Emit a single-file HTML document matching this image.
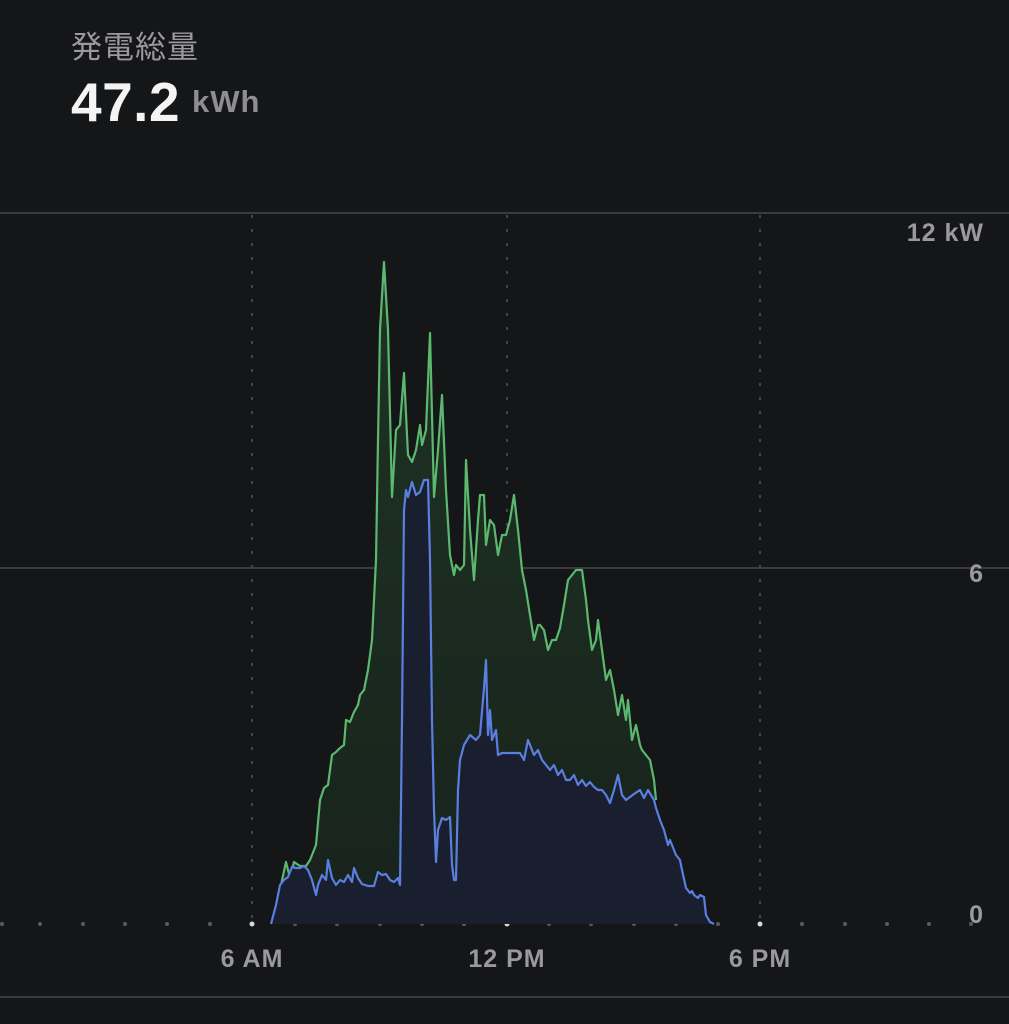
<!DOCTYPE html>
<html><head><meta charset="utf-8"><style>
html,body{margin:0;padding:0;background:#151618;}
body{width:1009px;height:1024px;overflow:hidden;position:relative;font-family:"Liberation Sans","Noto Sans CJK JP",sans-serif;}
.t{position:absolute;white-space:nowrap;}
</style></head><body>
<div class="t" style="left:71px;top:22px;font-size:31px;color:#9a9a9c;letter-spacing:1px;font-family:'Noto Sans CJK JP',sans-serif;">発電総量</div>
<div class="t" style="left:71px;top:70px;font-size:55px;font-weight:bold;color:#f4f4f4;letter-spacing:0.5px;">47.2</div>
<div class="t" style="left:192px;top:84px;font-size:31px;font-weight:bold;color:#8e8e90;letter-spacing:1px;">kWh</div>
<svg width="1009" height="1024" style="position:absolute;left:0;top:0" xmlns="http://www.w3.org/2000/svg">
<defs>
<linearGradient id="gg" x1="0" y1="0" x2="0" y2="1"><stop offset="0" stop-color="#1e3324"/><stop offset="1" stop-color="#18231c"/></linearGradient>
</defs>
<line x1="0" y1="213" x2="1009" y2="213" stroke="#3a3b3e" stroke-width="2"/>
<line x1="0" y1="568" x2="1009" y2="568" stroke="#3a3b3e" stroke-width="2"/>
<line x1="0" y1="997" x2="1009" y2="997" stroke="#3a3b3e" stroke-width="2"/>
<g stroke="#45464a" stroke-width="2" stroke-dasharray="3,11">
<line x1="252" y1="215" x2="252" y2="920"/>
<line x1="507" y1="215" x2="507" y2="920"/>
<line x1="760" y1="215" x2="760" y2="920"/>
</g>
<g fill="#5a5b5f">
<circle cx="2" cy="924" r="2"/><circle cx="40" cy="924" r="2"/><circle cx="83" cy="924" r="2"/><circle cx="125" cy="924" r="2"/><circle cx="167" cy="924" r="2"/><circle cx="210" cy="924" r="2"/>
<circle cx="295" cy="924" r="2"/><circle cx="337" cy="924" r="2"/><circle cx="380" cy="924" r="2"/><circle cx="422" cy="924" r="2"/><circle cx="464" cy="924" r="2"/>
<circle cx="549" cy="924" r="2"/><circle cx="591" cy="924" r="2"/><circle cx="634" cy="924" r="2"/><circle cx="676" cy="924" r="2"/><circle cx="718" cy="924" r="2"/>
<circle cx="802" cy="924" r="2"/><circle cx="845" cy="924" r="2"/><circle cx="887" cy="924" r="2"/><circle cx="929" cy="924" r="2"/><circle cx="971" cy="924" r="2"/>
</g>
<g fill="#d8d8d8"><circle cx="252" cy="924" r="2.5"/><circle cx="507" cy="924" r="2.5"/><circle cx="760" cy="924" r="2.5"/></g>
<polygon fill="url(#gg)" points="281,924 281,885 286,862 290,878 294,862 300,866 306,866 310,860 316,845 320,800 324,788 328,785 332,755 336,752 340,748 344,745 346,720 350,722 354,712 358,705 360,695 364,690 368,670 372,640 376,560 378,440 380,330 384,262 388,330 392,497 396,430 400,425 404,373 408,455 412,462 416,450 420,425 422,445 426,430 430,333 434,497 438,450 442,395 446,490 450,555 454,575 456,565 460,570 464,565 466,460 470,530 474,580 478,520 480,495 484,495 486,545 490,520 494,525 498,555 502,535 506,535 510,520 514,495 518,530 522,570 526,590 530,615 534,640 538,625 540,625 544,630 548,650 552,640 556,640 560,628 564,605 568,580 572,575 576,570 582,570 586,600 588,620 592,650 596,640 598,620 602,650 606,680 610,670 614,690 618,715 622,695 626,720 628,700 632,740 636,725 640,745 642,750 646,755 650,760 654,780 656,800 656,924"/>
<polyline fill="none" stroke="#5cb86e" stroke-width="2.2" stroke-linejoin="round" points="281,885 286,862 290,878 294,862 300,866 306,866 310,860 316,845 320,800 324,788 328,785 332,755 336,752 340,748 344,745 346,720 350,722 354,712 358,705 360,695 364,690 368,670 372,640 376,560 378,440 380,330 384,262 388,330 392,497 396,430 400,425 404,373 408,455 412,462 416,450 420,425 422,445 426,430 430,333 434,497 438,450 442,395 446,490 450,555 454,575 456,565 460,570 464,565 466,460 470,530 474,580 478,520 480,495 484,495 486,545 490,520 494,525 498,555 502,535 506,535 510,520 514,495 518,530 522,570 526,590 530,615 534,640 538,625 540,625 544,630 548,650 552,640 556,640 560,628 564,605 568,580 572,575 576,570 582,570 586,600 588,620 592,650 596,640 598,620 602,650 606,680 610,670 614,690 618,715 622,695 626,720 628,700 632,740 636,725 640,745 642,750 646,755 650,760 654,780 656,800"/>
<polygon fill="#1a1f2f" points="271,924 276,905 280,885 284,880 288,877 292,867 296,868 300,868 304,866 308,870 312,880 316,895 318,885 322,875 326,880 328,860 332,878 336,885 340,880 344,882 348,875 352,882 354,868 358,878 362,884 368,886 374,886 378,872 382,875 386,874 390,880 394,882 398,878 400,885 402,720 404,510 406,490 408,497 412,482 416,495 420,492 424,480 428,480 430,560 432,720 434,810 436,862 438,830 442,818 446,820 450,817 452,865 454,880 456,880 458,790 460,760 464,745 470,735 476,740 480,735 484,688 486,660 488,735 490,710 492,740 496,730 498,755 502,753 508,753 514,753 520,753 524,760 528,740 530,745 534,755 538,750 542,760 546,765 550,770 554,765 558,775 562,770 566,780 570,780 574,775 578,785 582,780 586,786 590,782 594,787 598,790 602,790 606,795 610,803 614,790 618,775 622,795 626,800 630,797 634,794 640,790 644,798 648,790 654,800 656,808 660,820 664,830 668,845 670,840 672,845 676,855 680,860 682,870 686,888 690,893 692,891 694,895 698,898 700,895 704,897 706,915 710,922 714,924"/>
<polyline fill="none" stroke="#5a7fe0" stroke-width="2.2" stroke-linejoin="round" points="271,924 276,905 280,885 284,880 288,877 292,867 296,868 300,868 304,866 308,870 312,880 316,895 318,885 322,875 326,880 328,860 332,878 336,885 340,880 344,882 348,875 352,882 354,868 358,878 362,884 368,886 374,886 378,872 382,875 386,874 390,880 394,882 398,878 400,885 402,720 404,510 406,490 408,497 412,482 416,495 420,492 424,480 428,480 430,560 432,720 434,810 436,862 438,830 442,818 446,820 450,817 452,865 454,880 456,880 458,790 460,760 464,745 470,735 476,740 480,735 484,688 486,660 488,735 490,710 492,740 496,730 498,755 502,753 508,753 514,753 520,753 524,760 528,740 530,745 534,755 538,750 542,760 546,765 550,770 554,765 558,775 562,770 566,780 570,780 574,775 578,785 582,780 586,786 590,782 594,787 598,790 602,790 606,795 610,803 614,790 618,775 622,795 626,800 630,797 634,794 640,790 644,798 648,790 654,800 656,808 660,820 664,830 668,845 670,840 672,845 676,855 680,860 682,870 686,888 690,893 692,891 694,895 698,898 700,895 704,897 706,915 710,922 714,924"/>
<g font-family="Liberation Sans, sans-serif" font-size="25" font-weight="bold" fill="#9a9a9c" letter-spacing="1">
<text x="984" y="241" text-anchor="end">12 kW</text>
<text x="984" y="582" text-anchor="end">6</text>
<text x="984" y="923" text-anchor="end">0</text>
<text x="252" y="967" text-anchor="middle">6 AM</text>
<text x="507" y="967" text-anchor="middle">12 PM</text>
<text x="760" y="967" text-anchor="middle">6 PM</text>
</g>
</svg>
</body></html>
